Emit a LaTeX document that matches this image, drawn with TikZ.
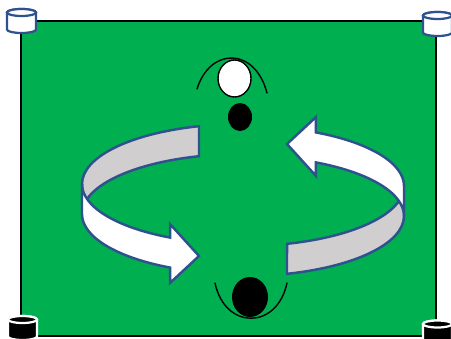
\documentclass[tikz,border=0pt]{standalone}
\usepackage{tikz}
\definecolor{figgreen}{RGB}{0,176,80}
\definecolor{figblue}{RGB}{47,82,143}
\definecolor{figgrey}{RGB}{208,206,206}
\newcommand{\cylW}{14.5}
\newcommand{\cylH}{17}
\newcommand{\cylR}{3.5}
\tikzset{
  field/.style  ={fill=figgreen,draw=black,line width=1.3pt},
  wpost/.style  ={fill=white,draw=figblue,line width=1.9pt},
  kpost/.style  ={fill=black,draw=white,line width=1.9pt},
  ribline/.style={draw=figblue,line width=2.1pt,line join=miter},
  rback/.style  ={ribline,fill=figgrey},
  rfront/.style ={ribline,fill=white},
  fcurve/.style ={draw=black,line width=1.2pt,line cap=round},
  whead/.style  ={fill=white,draw=black,line width=1.2pt},
  khead/.style  ={fill=black},
  ribbon/.pic={
    \path[rback] (-43,-73.8) arc[start angle=254.4,end angle=180,x radius=160,y radius=60]
      -- (-160,14) arc[start angle=180,end angle=254.4,x radius=160,y radius=60] -- cycle;
    \path[rfront] (-160,-16) arc[start angle=180,end angle=116.7,x radius=160,y radius=60]
      -- (-72,24) -- (-43,56) -- (-72,83) -- (-71.9,67.6)
      arc[start angle=116.7,end angle=180,x radius=160,y radius=60] -- cycle;
  },
}
\newcommand{\cylpost}[4]{%
  \coordinate (#1) at (#2,#3);
  \path[#4] (#1) ++(-\cylW,0) -- ++(0,\cylH)
    arc[start angle=180,end angle=0,x radius=\cylW,y radius=\cylR] -- ++(0,-\cylH)
    arc[start angle=0,end angle=-180,x radius=\cylW,y radius=\cylR] -- cycle;
  \path[#4] (#1) ellipse[x radius=\cylW,y radius=\cylR];
}

\begin{document}
\begin{tikzpicture}[x=0.03cm,y=-0.03cm]
  \useasboundingbox (0,0) rectangle (451,338);
  \path[field] (21,21) rectangle (436,336);
  % corner posts
  \cylpost{pTL}{21.5}{12.5}{wpost}
  \cylpost{pTR}{437.5}{15.5}{wpost}
  \cylpost{pBL}{22.5}{319.5}{kpost}
  \cylpost{pBR}{437.5}{324}{kpost}
  % turning arrows
  \pic (arrL) at (242,200) {ribbon};
  \pic[rotate=180] (arrR) at (244,200) {ribbon};
  % players
  \coordinate (hTop) at (234.5,78.5);
  \coordinate (hMid) at (240,117);
  \coordinate (hBot) at (250,297);
  \path[whead] (hTop) ellipse[x radius=16.5,y radius=18.5];
  \path[khead] (hMid) ellipse[x radius=12,y radius=14];
  \path[khead] (hBot) ellipse[x radius=18,y radius=20];
  \coordinate (aL) at (197,89);
  \coordinate (aR) at (267,93);
  \coordinate (uL) at (215,283);
  \coordinate (uR) at (287,283);
  \path[fcurve] (aL) .. controls (210,47) and (255,47) .. (aR);
  \path[fcurve] (uL) .. controls (225,330) and (277,330) .. (uR);
\end{tikzpicture}
\end{document}
